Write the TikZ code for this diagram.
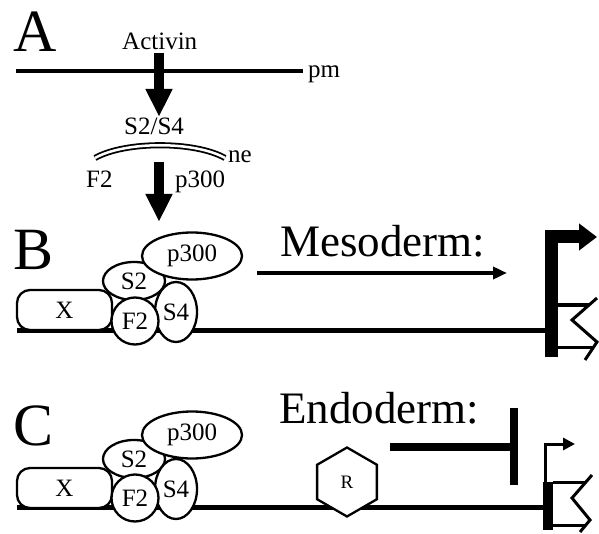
\documentclass[tikz,border=0pt]{standalone}
\usepackage{fontspec}
\setmainfont{Liberation Serif}
\usepackage{tikz}
\usetikzlibrary{arrows.meta, shapes.geometric}
\tikzset{
  panel/.style={font=\fontsize{60}{60}\selectfont, inner sep=0pt, anchor=base west},
  tag/.style={inner sep=0pt, anchor=base west},
  fate/.style={font=\fontsize{45}{50}\selectfont, inner sep=0pt, anchor=base west},
  protein/.style={draw, line width=2.3pt, fill=white, inner sep=0pt},
  dna/.style={line width=5pt},
  bigarrow/.style={line width=10pt, -{Triangle[length=28pt,width=25pt]}},
  thinarrow/.style={line width=4pt, -{Triangle[length=14pt,width=12pt]}},
  boxline/.style={line width=3pt}
}
\begin{document}
\begin{tikzpicture}[x=1pt, y=-1pt, font=\fontsize{25}{29}\selectfont]
  \useasboundingbox (0,0) rectangle (599,534);

  \node[panel] (labA) at (13,52) {A};
  \node[tag] (activin) at (122,50) {Activin};
  \draw[line width=4.5pt] (16,71) -- (303,71);
  \node[tag] (pm) at (308,78) {pm};
  \coordinate (sigTop) at (159,53);
  \coordinate (sigTip) at (159,117);
  \draw[bigarrow] (sigTop) -- (sigTip);
  \node[tag] (s2s4) at (124,135) {S2/S4};
  \draw[double, double distance=2.5pt, line width=1.8pt] (95,158) .. controls (125,141) and (195,141) .. (225,158);
  \node[tag] (ne) at (228,163) {ne};
  \node[tag] (f2A) at (86,188) {F2};
  \node[tag] (p300A) at (175,188) {p300};
  \coordinate (nucTop) at (159,162);
  \coordinate (nucTip) at (159,222);
  \draw[bigarrow] (nucTop) -- (nucTip);

  \node[panel] (labB) at (13,270) {B};
  \node[fate] (meso) at (280,257) {Mesoderm:};
  \coordinate (mesoL) at (257,273);
  \coordinate (mesoR) at (507,273);
  \draw[thinarrow] (mesoL) -- (mesoR);
  \draw[dna] (17,330) -- (546,330);
  \node[protein, rounded corners=13pt, minimum width=95pt, minimum height=40pt] (xB) at (64.5,310) {X};
  \node[protein, ellipse, minimum width=62pt, minimum height=38pt] (s2B) at (134,281) {S2};
  \node[protein, ellipse, minimum width=42pt, minimum height=60pt] (s4B) at (176,312) {S4};
  \node[protein, circle, minimum size=47pt] (f2B) at (135,321) {F2};
  \node[protein, ellipse, minimum width=100pt, minimum height=47pt] (p300B) at (192,256) {p300};
  \draw[line width=13pt, -{Triangle[length=18pt,width=26pt]}] (551,357) -- (551,237) -- (597,237);
  \draw[boxline] (557,305) -- (589,305);
  \draw[boxline] (557,347) -- (594,347);
  \draw[boxline] (597,298) -- (572,320) -- (597,342) -- (585,360);

  \node[panel] (labC) at (13,445) {C};
  \node[fate] (endo) at (279,423) {Endoderm:};
  \coordinate (endoL) at (390,447);
  \coordinate (endoR) at (514,447);
  \draw[line width=8pt] (endoL) -- (endoR);
  \draw[line width=8pt] (514,408) -- (514,485);
  \draw[dna] (17,507) -- (543,507);
  \node[protein, regular polygon, regular polygon sides=6, shape border rotate=30, minimum size=69pt, font=\fontsize{19}{21}\selectfont] (rep) at (347,482) {R};
  \node[protein, rounded corners=13pt, minimum width=95pt, minimum height=40pt] (xC) at (64.5,488) {X};
  \node[protein, ellipse, minimum width=62pt, minimum height=38pt] (s2C) at (134,459) {S2};
  \node[protein, ellipse, minimum width=42pt, minimum height=60pt] (s4C) at (176,489) {S4};
  \node[protein, circle, minimum size=47pt] (f2C) at (135,498) {F2};
  \node[protein, ellipse, minimum width=100pt, minimum height=47pt] (p300C) at (192,435) {p300};
  \draw[line width=10pt] (548,482) -- (548,530);
  \draw[boxline, -{Triangle[length=12pt,width=12pt]}] (545,482) -- (545,444) -- (575,444);
  \draw[boxline] (553,482) -- (586,482);
  \draw[boxline] (553,525) -- (586,525);
  \draw[boxline] (592,475) -- (572,498) -- (590,520) -- (580,532);
\end{tikzpicture}
\end{document}
